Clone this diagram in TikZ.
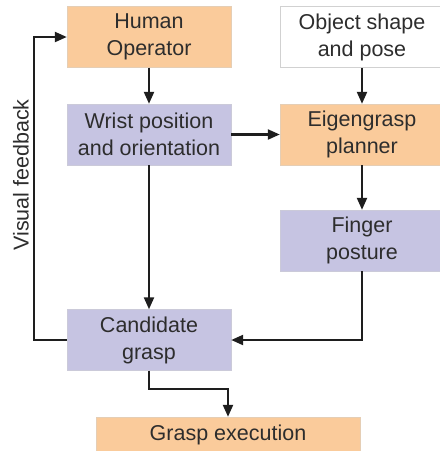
\documentclass[tikz,border=0pt]{standalone}
\usepackage{fontspec}
\setmainfont{Liberation Sans}
\usetikzlibrary{arrows.meta,calc}
\definecolor{boxorange}{RGB}{250,203,155}
\definecolor{boxpurple}{RGB}{198,196,226}
\definecolor{txtgray}{RGB}{45,45,45}
\definecolor{lnk}{RGB}{30,30,30}
\tikzset{
  box/.style={rectangle, minimum width=164pt, minimum height=61pt, inner sep=0pt,
    align=center, text=txtgray, font=\fontsize{21.5}{27}\selectfont},
  obox/.style={box, fill=boxorange, draw=boxorange!85!black!60!white, line width=0.4pt},
  pbox/.style={box, fill=boxpurple, draw=boxpurple!85!black!60!white, line width=0.4pt},
  wbox/.style={box, fill=white, draw=black!18, line width=0.6pt},
  arr/.style={draw=lnk, line width=2.2pt, -{Triangle[length=12pt,width=10pt]}},
}
\begin{document}
\begin{tikzpicture}[x=1pt,y=-1pt]
\useasboundingbox (0,0) rectangle (440,451);
\node[obox] (ho) at (149,37) {Human\\Operator};
\node[wbox] (obj) at (362,37) {Object shape\\and pose};
\node[pbox] (wr) at (149,134.5) {Wrist position\\and orientation};
\node[obox] (eig) at (362,134.5) {Eigengrasp\\planner};
\node[pbox] (fin) at (362,240.5) {Finger\\posture};
\node[pbox] (cand) at (149,340) {Candidate\\grasp};
\node[obox, minimum width=264pt, minimum height=36pt] (gr) at (228,435) {Grasp execution};
\node[rotate=90, text=txtgray, font=\fontsize{21.5}{26}\selectfont] (vf) at (21,175) {Visual feedback};
\draw[arr] (ho.south) -- (wr.north);
\draw[arr] (obj.south) -- (eig.north);
\draw[arr] (wr.east) -- (eig.west);
\draw[arr] (eig.south) -- (fin.north);
\draw[arr] (wr.south) -- (cand.north);
\draw[arr] (fin.south) |- (cand.east);
\draw[arr] (cand.south) -- ++(0,18) -| (gr.north);
\draw[arr] (cand.west) -- ++(-33,0) |- (ho.west);
\end{tikzpicture}
\end{document}
